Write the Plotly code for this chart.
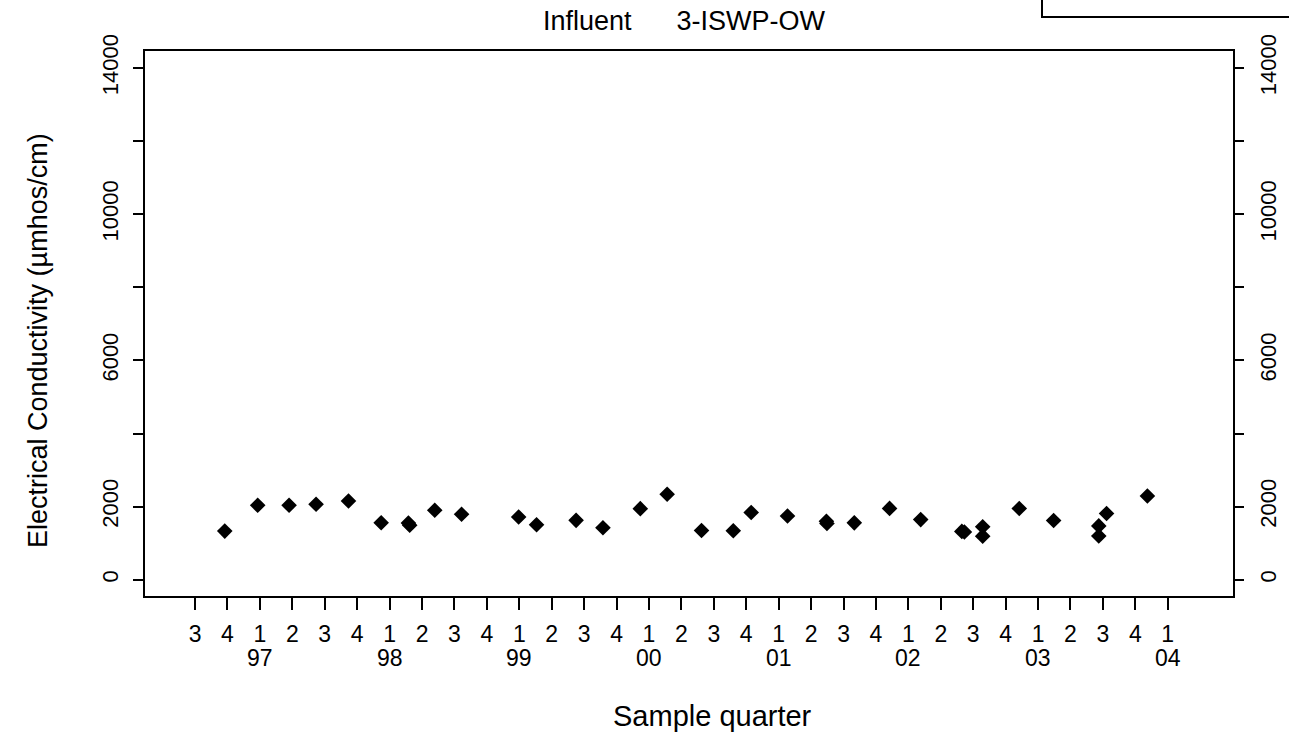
import plotly.graph_objects as go

# ---- data ----
sample_dates = [1996.729, 1996.983, 1997.225, 1997.433, 1997.683, 1997.935,
                1998.145, 1998.155, 1998.348, 1998.555, 1998.995, 1999.133,
                1999.438, 1999.645, 1999.933, 2000.140, 2000.405, 2000.650,
                2000.788, 2001.068, 2001.368, 2001.372, 2001.583, 2001.855,
                2002.095, 2002.412, 2002.432, 2002.573, 2002.573, 2002.855,
                2003.120, 2003.468, 2003.468, 2003.528, 2003.843]
conductivity = [1330, 2036, 2036, 2064, 2155, 1559,
                1548, 1489, 1899, 1789, 1716, 1505,
                1624, 1422, 1944, 2339, 1346, 1339,
                1840, 1741, 1597, 1538, 1555, 1951,
                1644, 1321, 1306, 1448, 1191, 1946,
                1619, 1472, 1197, 1810, 2288]

y_tick_values = [0, 2000, 4000, 6000, 8000, 10000, 12000, 14000]
y_tick_labels = ["0", "2000", "", "6000", "", "10000", "", "14000"]

first_year, first_quarter = 1996, 3
last_year, last_quarter = 2004, 1

title_text = "Influent\u00a0\u00a0\u00a0\u00a0\u00a0\u00a03-ISWP-OW"
x_title = "Sample quarter"
y_title = "Electrical Conductivity (\u00b5mhos/cm)"

# ---- quarter ticks ----
x_tick_values, x_tick_labels = [], []
year_positions, year_labels = [], []
yr, q = first_year, first_quarter
while (yr, q) <= (last_year, last_quarter):
    pos = yr + (q - 1) / 4
    x_tick_values.append(pos)
    x_tick_labels.append(str(q))
    if q == 1:
        year_positions.append(pos)
        year_labels.append(f"{yr % 100:02d}")
    q += 1
    if q > 4:
        q, yr = 1, yr + 1

FONT = "Liberation Sans, Arial, Helvetica, sans-serif"
W, H = 1289, 738
PLOT_L, PLOT_R, PLOT_T, PLOT_B = 145, 1233, 51, 596   # page pixels
L, T, R, B = PLOT_L, PLOT_T, W - PLOT_R, H - PLOT_B
PW, PH = PLOT_R - PLOT_L, PLOT_B - PLOT_T

def px_x(px):
    return (px - PLOT_L) / PW

def px_y(py):
    return (PLOT_B - py) / PH

y_range = [-446, 14465]
x_range = [1996.114, 2004.503]

fig = go.Figure()
fig.add_trace(go.Scatter(
    x=sample_dates, y=conductivity, mode="markers",
    marker=dict(symbol="diamond", size=12, color="black", line=dict(width=0)),
    showlegend=False))
fig.add_trace(go.Scatter(
    x=sample_dates[:1], y=conductivity[:1], yaxis="y2", mode="markers",
    marker=dict(opacity=0), showlegend=False, hoverinfo="skip"))

axis_common = dict(showgrid=False, zeroline=False, showline=True,
                   linecolor="black", linewidth=2, ticks="outside",
                   tickcolor="black", tickwidth=2)

annotations = [
    dict(text=title_text, x=px_x(684), y=px_y(21), xref="paper", yref="paper",
         showarrow=False, xanchor="center", yanchor="middle",
         font=dict(family=FONT, size=27, color="black")),
    dict(text=x_title, x=px_x(712), y=px_y(716), xref="paper", yref="paper",
         showarrow=False, xanchor="center", yanchor="middle",
         font=dict(family=FONT, size=29, color="black")),
    dict(text=y_title, x=px_x(38), y=px_y(341), xref="paper", yref="paper",
         showarrow=False, xanchor="center", yanchor="middle", textangle=-90,
         font=dict(family=FONT, size=27, color="black")),
]
for pos, lab in zip(year_positions, year_labels):
    annotations.append(dict(text=lab, x=pos, y=px_y(658), xref="x", yref="paper",
                            showarrow=False, xanchor="center", yanchor="middle",
                            font=dict(family=FONT, size=23, color="black")))

fig.update_layout(
    width=W, height=H,
    margin=dict(l=L, r=R, t=T, b=B, autoexpand=False),
    paper_bgcolor="white", plot_bgcolor="white",
    font=dict(family=FONT, color="black"),
    xaxis=dict(range=x_range, tickmode="array", tickvals=x_tick_values,
               ticktext=x_tick_labels, ticklen=12, mirror=True,
               tickfont=dict(family=FONT, size=23, color="black"),
               ticklabelstandoff=4, **axis_common),
    yaxis=dict(range=y_range, tickmode="array", tickvals=y_tick_values,
               ticktext=y_tick_labels, ticklen=10, tickangle=-90,
               tickfont=dict(family=FONT, size=22, color="black"),
               ticklabelstandoff=6, **axis_common),
    yaxis2=dict(range=y_range, tickmode="array", tickvals=y_tick_values,
                ticktext=y_tick_labels, ticklen=9, tickangle=-90,
                tickfont=dict(family=FONT, size=22, color="black"),
                ticklabelstandoff=6,
                overlaying="y", side="right", **axis_common),
    annotations=annotations,
    shapes=[
        dict(type="path", xref="paper", yref="paper",
             path=f"M {px_x(1042)} {px_y(-10)} L {px_x(1042)} {px_y(17)} L {px_x(1300)} {px_y(17)}",
             line=dict(color="black", width=2)),
    ],
)

# remove the default 8px page margin so the figure fills the window exactly
fig.write_html("out.html",
               config={"displayModeBar": False},
               post_script="document.body.style.margin='0';document.body.style.overflow='hidden';")
